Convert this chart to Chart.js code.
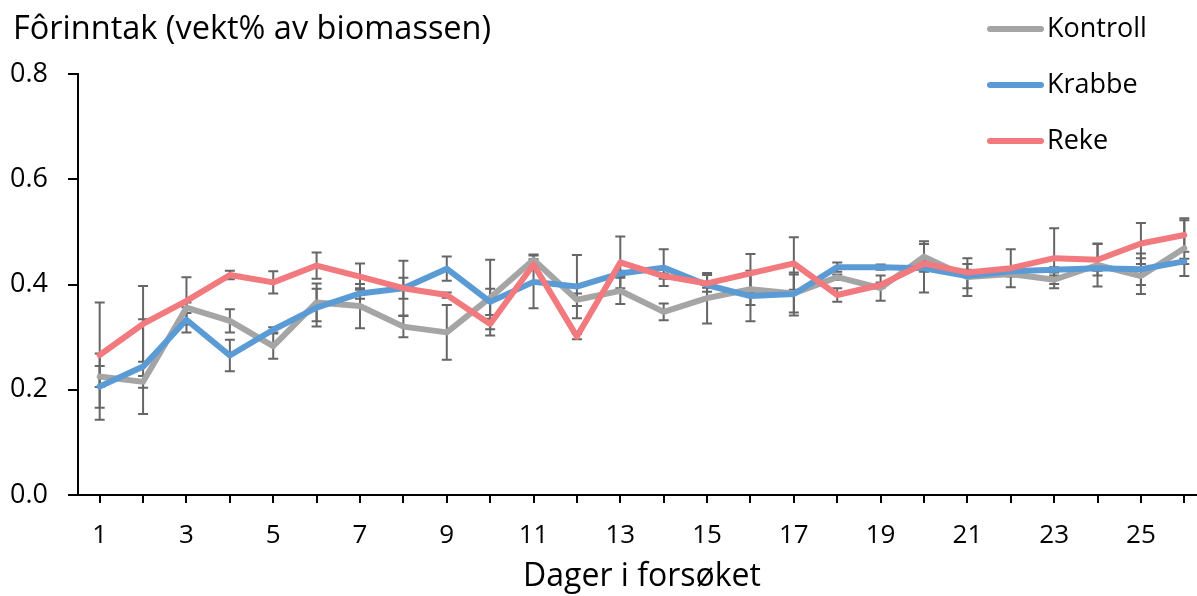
<!DOCTYPE html>
<html>
<head>
<meta charset="utf-8">
<style>
  body { margin: 0; overflow: hidden; background: #fff; }
  .chart-box { width: 1206px; height: 596px; }
</style>
</head>
<body>
<div class="chart-box"><canvas id="forinntak"></canvas></div>

<script src="https://cdn.jsdelivr.net/npm/chart.js"></script>
<script>
const days = ['1','2','3','4','5','6','7','8','9','10','11','12','13','14','15','16','17','18','19','20','21','22','23','24','25','26'];
const yTicks = [0, 0.2, 0.4, 0.6, 0.8];

const kontroll = [0.225, 0.215, 0.356, 0.331, 0.283, 0.366, 0.359, 0.320, 0.309, 0.375, 0.447, 0.371, 0.388,
                  0.348, 0.374, 0.391, 0.383, 0.414, 0.393, 0.453, 0.414, 0.420, 0.409, 0.437, 0.416, 0.469];
const krabbe   = [0.206, 0.244, 0.333, 0.265, 0.314, 0.356, 0.383, 0.393, 0.430, 0.367, 0.405, 0.396, 0.421,
                  0.432, 0.399, 0.378, 0.382, 0.433, 0.433, 0.431, 0.416, 0.425, 0.428, 0.431, 0.429, 0.444];
const reke     = [0.266, 0.325, 0.369, 0.418, 0.404, 0.436, 0.415, 0.393, 0.380, 0.325, 0.438, 0.301, 0.442,
                  0.416, 0.402, 0.421, 0.440, 0.380, 0.399, 0.440, 0.423, 0.431, 0.450, 0.447, 0.478, 0.494];

// standardavvik (error bars)
const kontrollErr = [0.020, 0.011, 0.010, 0.022, 0.024, 0.036, 0.042, 0.020, 0.052, 0.072, 0.010, 0.012, 0.025,
                     0.016, 0.048, 0.030, 0.036, 0.005, 0.024, 0.029, 0.036, 0.005, 0.008, 0.041, 0.034, 0.053];
const krabbeErr   = [0.063, 0.090, 0.024, 0.030, 0.005, 0.036, 0.010, 0.020, 0.023, 0.025, 0.050, 0.060, 0.005,
                     0.035, 0.005, 0.048, 0.041, 0.009, 0.005, 0.046, 0.023, 0.005, 0.005, 0.005, 0.030, 0.005];
const rekeErr     = [0.100, 0.072, 0.045, 0.008, 0.021, 0.025, 0.025, 0.052, 0.005, 0.010, 0.010, 0.005, 0.049,
                     0.005, 0.016, 0.037, 0.050, 0.013, 0.005, 0.005, 0.005, 0.036, 0.057, 0.030, 0.039, 0.032];

const FONT = '"Open Sans", "Noto Sans", sans-serif';

// grey error bars, drawn under the lines
const errorBars = {
  id: 'errorBars',
  beforeDatasetsDraw(chart) {
    const ctx = chart.ctx;
    const y = chart.scales.y;
    ctx.save();
    ctx.strokeStyle = '#666666';
    ctx.lineWidth = 2;
    chart.data.datasets.forEach(function(ds, di) {
      const meta = chart.getDatasetMeta(di);
      meta.data.forEach(function(pt, i) {
        const top = y.getPixelForValue(ds.data[i] + ds.errors[i]);
        const bot = y.getPixelForValue(ds.data[i] - ds.errors[i]);
        ctx.beginPath();
        ctx.moveTo(pt.x, top); ctx.lineTo(pt.x, bot);
        ctx.moveTo(pt.x - 5, top); ctx.lineTo(pt.x + 5, top);
        ctx.moveTo(pt.x - 5, bot); ctx.lineTo(pt.x + 5, bot);
        ctx.stroke();
      });
    });
    ctx.restore();
  }
};

// title top-left and the legend top-right
const headerLegend = {
  id: 'headerLegend',
  afterDraw(chart) {
    const ctx = chart.ctx;
    ctx.save();
    ctx.fillStyle = '#000';
    ctx.textBaseline = 'middle';
    ctx.font = '32.5px ' + FONT;
    ctx.fillText('Fôrinntak (vekt% av biomassen)', 13, 30);

    ['Kontroll', 'Krabbe', 'Reke'].forEach(function(name, i) {
      const ds = chart.data.datasets.find(d => d.label === name);
      const ly = 29 + i * 56;
      ctx.strokeStyle = ds.borderColor;
      ctx.lineWidth = 6;
      ctx.lineCap = 'round';
      ctx.beginPath();
      ctx.moveTo(990, ly); ctx.lineTo(1041, ly);
      ctx.stroke();
      ctx.font = '27px ' + FONT;
      ctx.fillText(name, 1047, ly);
    });
    ctx.restore();
  }
};

const ctx = document.getElementById('forinntak');

new Chart(ctx, {
  type: 'line',
  data: {
    labels: days,
    datasets: [
      { label: 'Kontroll', data: kontroll, errors: kontrollErr, borderColor: '#A5A5A5', order: 3 },
      { label: 'Krabbe', data: krabbe, errors: krabbeErr, borderColor: '#5B9BD5', order: 2 },
      { label: 'Reke', data: reke, errors: rekeErr, borderColor: '#F2797D', order: 1 }
    ].map(function(d) {
      return Object.assign({
        borderWidth: 6,
        pointRadius: 0,
        tension: 0,
        fill: false,
        borderJoinStyle: 'round',
        borderCapStyle: 'round'
      }, d);
    })
  },
  options: {
    responsive: true,
    maintainAspectRatio: false,
    animation: false,
    devicePixelRatio: 1,
    layout: { padding: { top: 74, left: 0, right: 0, bottom: 0 } },
    plugins: {
      legend: { display: false },
      tooltip: { enabled: false }
    },
    scales: {
      x: {
        type: 'category',
        offset: true,
        grid: { drawOnChartArea: false, drawTicks: true, tickLength: 8, color: '#000', lineWidth: 2, offset: false },
        border: { color: '#000', width: 2 },
        ticks: {
          autoSkip: false,
          maxRotation: 0,
          minRotation: 0,
          color: '#000',
          padding: 17,
          font: { family: FONT, size: 26 },
          callback: function(v, i) { return i % 2 === 0 ? days[i] : ''; }
        },
        title: {
          display: true,
          text: 'Dager i forsøket',
          color: '#000',
          font: { family: FONT, size: 32 },
          padding: { top: 0, bottom: 0 }
        },
        afterFit: function(s) { s.height = 101; }
      },
      y: {
        min: 0,
        max: 0.8,
        afterBuildTicks: function(s) { s.ticks = yTicks.map(v => ({ value: v })); },
        grid: { drawOnChartArea: false, tickLength: 10, color: '#000', lineWidth: 2 },
        border: { color: '#000', width: 2 },
        ticks: {
          color: '#000',
          padding: 20,
          font: { family: FONT, size: 27 },
          callback: function(v) { return v.toFixed(1); }
        },
        afterFit: function(s) { s.width = 78; }
      }
    }
  },
  plugins: [errorBars, headerLegend]
});
</script>
</body>
</html>
